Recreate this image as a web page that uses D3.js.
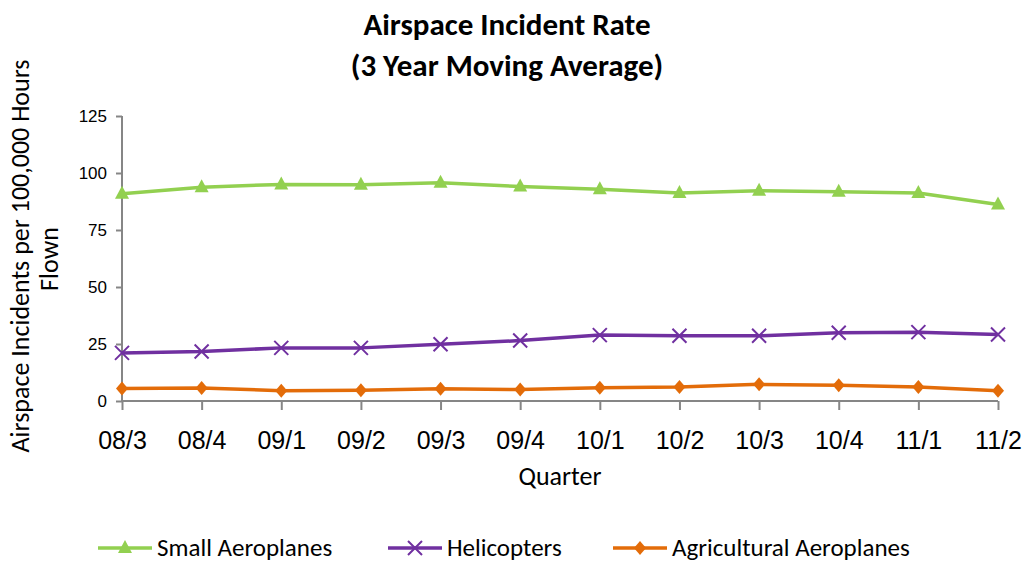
<!DOCTYPE html>
<html>
<head>
<meta charset="utf-8">
<script src="https://cdn.jsdelivr.net/npm/d3@7"></script>
<style>
	body { margin: 0; background: #ffffff; }
	svg { font-family: Carlito, Lato, "Open Sans", sans-serif; }
	.axis path, .axis line { stroke: #868686; stroke-width: 2; }
	.title { font-size: 31px; font-weight: bold; fill: #000; }
	.labels { font-size: 26px; fill: #000; }
	.legend-text { font-size: 25px; fill: #000; }
</style>
</head>
<body>
<svg></svg>
<script>
	var quarters = ["08/3","08/4","09/1","09/2","09/3","09/4","10/1","10/2","10/3","10/4","11/1","11/2"];
	var smallAeroplanes = [90.9, 93.8, 95.0, 94.8, 95.7, 94.1, 92.9, 91.2, 92.2, 91.8, 91.2, 86.2];
	var helicopters     = [21.1, 21.7, 23.3, 23.3, 24.9, 26.5, 28.9, 28.6, 28.6, 29.9, 30.2, 29.2];
	var agricultural    = [5.5, 5.7, 4.5, 4.7, 5.4, 5.0, 5.8, 6.1, 7.3, 6.9, 6.1, 4.5];
	var yTicks = [0, 25, 50, 75, 100, 125];

	var seriesNames = ["Small Aeroplanes", "Helicopters", "Agricultural Aeroplanes"];
	var seriesColors = ["#92d050", "#7030a0", "#e36c09"];
	var seriesSymbols = ["triangle", "cross", "diamond"];

	var sizeSvg = { wt: 1027, ht: 563 };
	var chart = { left: 122, top: 116, wt: 876, ht: 285 };

	var svg = d3.select("svg").attr("width", sizeSvg.wt).attr("height", sizeSvg.ht);

	var xScale = d3.scalePoint().domain(quarters).range([0, chart.wt]).padding(0);
	var yScale = d3.scaleLinear().domain([0, 125]).range([chart.ht, 0]);

	var g = svg.append("g").attr("transform", "translate(" + chart.left + "," + chart.top + ")");

	// title
	svg.append("text").attr("class", "title").attr("x", 507).attr("y", 35).attr("text-anchor", "middle").text("Airspace Incident Rate");
	svg.append("text").attr("class", "title").attr("x", 507).attr("y", 76).attr("text-anchor", "middle").text("(3 Year Moving Average)");

	// axes
	var yAxis = d3.axisLeft(yScale).tickValues(yTicks).tickSize(6).tickPadding(9);
	var gy = g.append("g").attr("class", "axis").call(yAxis);
	gy.select(".domain").attr("d", "M0," + yScale(0) + "V" + yScale(125));
	gy.selectAll("text").style("font-size", "17px").style("font-family", "inherit").attr("fill", "#000");

	var xAxis = d3.axisBottom(xScale).tickSize(9);
	var gx = g.append("g").attr("class", "axis").attr("transform", "translate(0," + chart.ht + ")").call(xAxis);
	gx.select(".domain").attr("d", "M0,0H" + chart.wt);
	gx.selectAll("text").style("font-size", "25px").style("font-family", "inherit")
		.attr("fill", "#000").attr("y", 48).attr("dy", 0);

	svg.append("text").attr("class", "labels").attr("x", 560).attr("y", 485).attr("text-anchor", "middle").text("Quarter");
	svg.append("text").attr("class", "labels").attr("transform", "translate(29,256) rotate(-90)").attr("text-anchor", "middle").text("Airspace Incidents per 100,000 Hours");
	svg.append("text").attr("class", "labels").attr("transform", "translate(58,259) rotate(-90)").attr("text-anchor", "middle").text("Flown");

	// markers
	function marker(sel, kind, color) {
		if (kind === "triangle") {
			sel.append("path").attr("d", "M0,-8L7,5L-7,5Z").attr("fill", color);
		} else if (kind === "diamond") {
			sel.append("path").attr("d", "M0,-7L6,0L0,7L-6,0Z").attr("fill", color);
		} else {
			sel.append("path").attr("d", "M-7,-7L7,7M-7,7L7,-7").attr("stroke", color).attr("stroke-width", 2).attr("fill", "none");
		}
	}

	var allSeries = [smallAeroplanes, helicopters, agricultural];
	var line = d3.line().x(function (d, i) { return xScale(quarters[i]); }).y(function (d) { return yScale(d); });

	allSeries.forEach(function (values, s) {
		g.append("path").datum(values)
			.attr("d", line)
			.attr("fill", "none")
			.attr("stroke", seriesColors[s])
			.attr("stroke-width", 3.5)
			.attr("stroke-linejoin", "round");
		g.selectAll(".pt" + s).data(values).enter()
			.append("g")
			.attr("transform", function (d, i) { return "translate(" + xScale(quarters[i]) + "," + yScale(d) + ")"; })
			.each(function () { marker(d3.select(this), seriesSymbols[s], seriesColors[s]); });
	});

	// legend
	var legendX = [98, 388, 613];
	var legend = svg.append("g").attr("transform", "translate(0,548)");
	seriesNames.forEach(function (name, s) {
		var item = legend.append("g").attr("transform", "translate(" + legendX[s] + ",0)");
		item.append("line").attr("x1", 0).attr("x2", 54).attr("y1", 0).attr("y2", 0)
			.attr("stroke", seriesColors[s]).attr("stroke-width", 3.5);
		marker(item.append("g").attr("transform", "translate(27,0)"), seriesSymbols[s], seriesColors[s]);
		item.append("text").attr("class", "legend-text").attr("x", 59).attr("y", 8).text(name);
	});
</script>
</body>
</html>
